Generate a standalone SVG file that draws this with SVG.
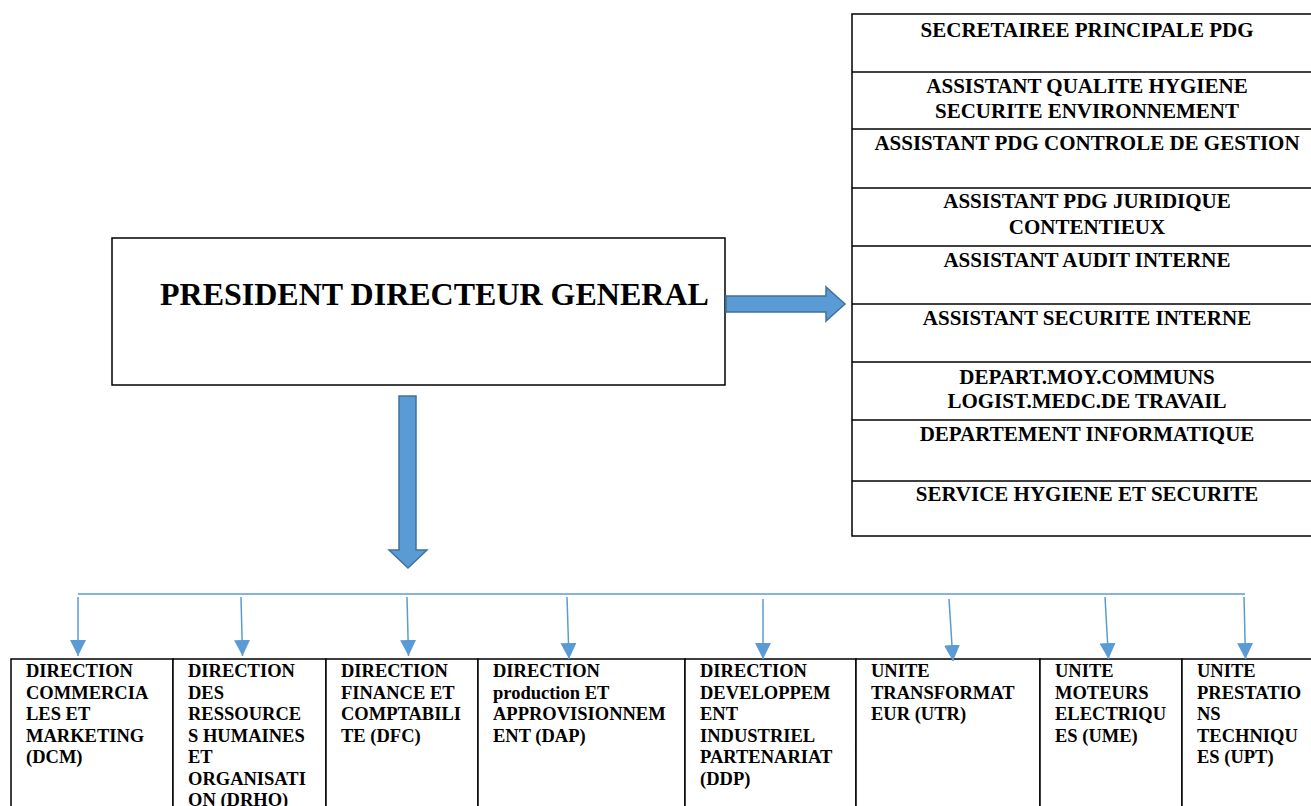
<svg xmlns="http://www.w3.org/2000/svg" width="1311" height="806" viewBox="0 0 1311 806">
<style>
.box{fill:#fff;stroke:#000;stroke-width:1.5}
.sep{stroke:#000;stroke-width:1.5}
.t{font-family:"Liberation Serif","Times New Roman",serif;font-weight:bold;fill:#000}
.rt{font-size:21px;text-anchor:middle}
.bt{font-size:18.5px}
.blk{fill:#5B9BD5;stroke:#41719C;stroke-width:1.5}
.con{stroke:#5B9BD5;stroke-width:1.5;fill:none}
</style>
<defs>
<marker id="ah" viewBox="0 0 10 10" refX="10" refY="5" markerWidth="16" markerHeight="16" markerUnits="userSpaceOnUse" orient="auto">
<path d="M0,0 L10,5 L0,10 Z" fill="#5B9BD5"/>
</marker>
</defs>
<g id="pdg">
<rect class="box" x="112" y="238" width="613" height="147"/>
<text class="t" x="160" y="305" font-size="32">PRESIDENT DIRECTEUR GENERAL</text>
</g>
<g id="staff">
<rect class="box" x="852" y="14" width="470" height="522"/>
<line class="sep" x1="852" y1="72" x2="1311" y2="72"/>
<line class="sep" x1="852" y1="129" x2="1311" y2="129"/>
<line class="sep" x1="852" y1="188" x2="1311" y2="188"/>
<line class="sep" x1="852" y1="246" x2="1311" y2="246"/>
<line class="sep" x1="852" y1="304" x2="1311" y2="304"/>
<line class="sep" x1="852" y1="362" x2="1311" y2="362"/>
<line class="sep" x1="852" y1="420" x2="1311" y2="420"/>
<line class="sep" x1="852" y1="481" x2="1311" y2="481"/>
<g class="t rt">
<text x="1087" y="37">SECRETAIREE PRINCIPALE PDG</text>
<text x="1087" y="93">ASSISTANT QUALITE HYGIENE</text>
<text x="1087" y="118">SECURITE ENVIRONNEMENT</text>
<text x="1087" y="150">ASSISTANT PDG CONTROLE DE GESTION</text>
<text x="1087" y="208">ASSISTANT PDG JURIDIQUE</text>
<text x="1087" y="234">CONTENTIEUX</text>
<text x="1087" y="267">ASSISTANT AUDIT INTERNE</text>
<text x="1087" y="325">ASSISTANT SECURITE INTERNE</text>
<text x="1087" y="384">DEPART.MOY.COMMUNS</text>
<text x="1087" y="408">LOGIST.MEDC.DE TRAVAIL</text>
<text x="1087" y="441">DEPARTEMENT INFORMATIQUE</text>
<text x="1087" y="501">SERVICE HYGIENE ET SECURITE</text>
</g>
</g>
<g id="dcm">
<rect class="box" x="11" y="659" width="162" height="160"/>
<text class="t bt" x="26" y="677">DIRECTION<tspan x="26" dy="21.5">COMMERCIA</tspan><tspan x="26" dy="21.5">LES ET</tspan><tspan x="26" dy="21.5">MARKETING</tspan><tspan x="26" dy="21.5">(DCM)</tspan></text>
</g>
<g id="drho">
<rect class="box" x="173" y="659" width="153" height="160"/>
<text class="t bt" x="188" y="677">DIRECTION<tspan x="188" dy="21.5">DES</tspan><tspan x="188" dy="21.5">RESSOURCE</tspan><tspan x="188" dy="21.5">S HUMAINES</tspan><tspan x="188" dy="21.5">ET</tspan><tspan x="188" dy="21.5">ORGANISATI</tspan><tspan x="188" dy="21.5">ON (DRHO)</tspan></text>
</g>
<g id="dfc">
<rect class="box" x="326" y="659" width="152" height="160"/>
<text class="t bt" x="341" y="677">DIRECTION<tspan x="341" dy="21.5">FINANCE ET</tspan><tspan x="341" dy="21.5">COMPTABILI</tspan><tspan x="341" dy="21.5">TE (DFC)</tspan></text>
</g>
<g id="dap">
<rect class="box" x="478" y="659" width="207" height="160"/>
<text class="t bt" x="493" y="677">DIRECTION<tspan x="493" dy="21.5">production ET</tspan><tspan x="493" dy="21.5">APPROVISIONNEM</tspan><tspan x="493" dy="21.5">ENT (DAP)</tspan></text>
</g>
<g id="ddp">
<rect class="box" x="685" y="659" width="171" height="160"/>
<text class="t bt" x="700" y="677">DIRECTION<tspan x="700" dy="21.5">DEVELOPPEM</tspan><tspan x="700" dy="21.5">ENT</tspan><tspan x="700" dy="21.5">INDUSTRIEL</tspan><tspan x="700" dy="21.5">PARTENARIAT</tspan><tspan x="700" dy="21.5">(DDP)</tspan></text>
</g>
<g id="utr">
<rect class="box" x="856" y="659" width="184" height="160"/>
<text class="t bt" x="871" y="677">UNITE<tspan x="871" dy="21.5">TRANSFORMAT</tspan><tspan x="871" dy="21.5">EUR (UTR)</tspan></text>
</g>
<g id="ume">
<rect class="box" x="1040" y="659" width="142" height="160"/>
<text class="t bt" x="1055" y="677">UNITE<tspan x="1055" dy="21.5">MOTEURS</tspan><tspan x="1055" dy="21.5">ELECTRIQU</tspan><tspan x="1055" dy="21.5">ES (UME)</tspan></text>
</g>
<g id="upt">
<rect class="box" x="1182" y="659" width="140" height="160"/>
<text class="t bt" x="1197" y="677">UNITE<tspan x="1197" dy="21.5">PRESTATIO</tspan><tspan x="1197" dy="21.5">NS</tspan><tspan x="1197" dy="21.5">TECHNIQU</tspan><tspan x="1197" dy="21.5">ES (UPT)</tspan></text>
</g>
<g id="connectors">
<path class="blk" d="M726,296 L826,296 L826,287 L845,304 L826,321 L826,312 L726,312 Z"/>
<path class="blk" d="M399,396 L416,396 L416,550 L427,550 L408,568 L389,550 L399,550 Z"/>
<line class="con" x1="78" y1="594" x2="1245" y2="594"/>
<line class="con" x1="78" y1="597" x2="78" y2="656" marker-end="url(#ah)"/>
<line class="con" x1="241" y1="597" x2="242.5" y2="656" marker-end="url(#ah)"/>
<line class="con" x1="407" y1="597" x2="408.5" y2="656" marker-end="url(#ah)"/>
<line class="con" x1="567" y1="597" x2="569" y2="659" marker-end="url(#ah)"/>
<line class="con" x1="763" y1="599" x2="763" y2="659" marker-end="url(#ah)"/>
<line class="con" x1="949" y1="599" x2="953" y2="661" marker-end="url(#ah)"/>
<line class="con" x1="1105" y1="597" x2="1108.5" y2="659" marker-end="url(#ah)"/>
<line class="con" x1="1244" y1="597" x2="1245.5" y2="659" marker-end="url(#ah)"/>
</g>
</svg>
